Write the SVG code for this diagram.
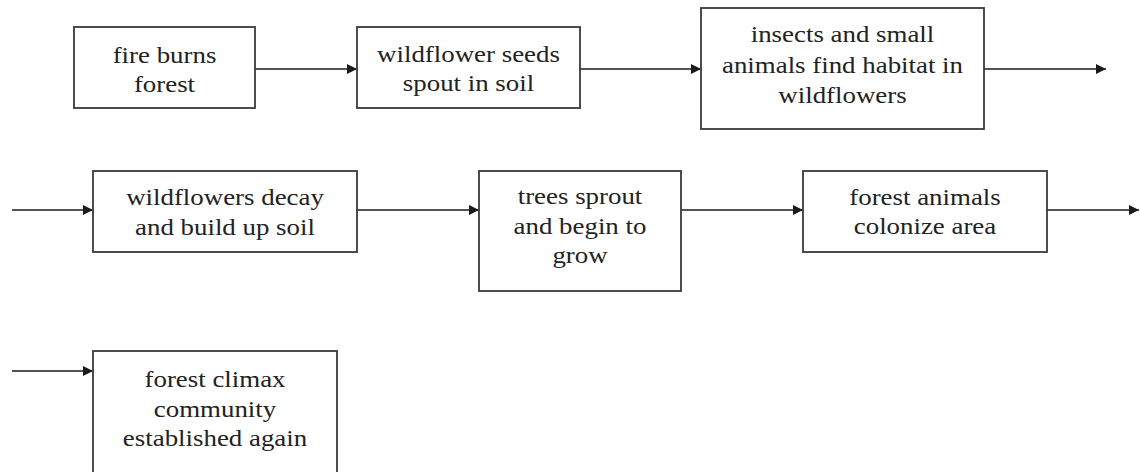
<svg xmlns="http://www.w3.org/2000/svg" width="1140" height="472" viewBox="0 0 1140 472">
  <defs>
    <marker id="arrow" viewBox="0 0 10 10" refX="10" refY="5" markerWidth="11" markerHeight="10" markerUnits="userSpaceOnUse" orient="auto">
      <path d="M0,0 L10,5 L0,10 Z" fill="#1a1a1a"/>
    </marker>
  </defs>
  <style>
    .box { fill: #ffffff; stroke: #3a3a3a; stroke-width: 1.8; }
    .label { font-family: "Liberation Serif", "Times New Roman", serif; font-size: 24px; fill: #222222; text-anchor: middle; }
    .edge { stroke: #1a1a1a; stroke-width: 1.6; fill: none; marker-end: url(#arrow); }
  </style>
  <rect width="1140" height="472" fill="#ffffff"/>

  <g id="connectors">
    <line class="edge" x1="255" y1="69" x2="357" y2="69"/>
    <line class="edge" x1="580" y1="69" x2="701" y2="69"/>
    <line class="edge" x1="984" y1="69" x2="1106" y2="69"/>
    <line class="edge" x1="12" y1="210" x2="93" y2="210"/>
    <line class="edge" x1="357" y1="210" x2="479" y2="210"/>
    <line class="edge" x1="681" y1="210" x2="803" y2="210"/>
    <line class="edge" x1="1047" y1="210" x2="1139" y2="210"/>
    <line class="edge" x1="12" y1="371" x2="93" y2="371"/>
  </g>

  <!-- labels are widened slightly with a horizontal scale -->
  <g id="fire-burns-forest">
    <rect class="box" x="74" y="27" width="181" height="81"/>
    <text class="label" transform="matrix(1.12 0 0 1 164.5 63)">fire burns</text>
    <text class="label" transform="matrix(1.12 0 0 1 164.5 92)">forest</text>
  </g>

  <g id="wildflower-seeds">
    <rect class="box" x="357" y="27" width="223" height="81"/>
    <text class="label" transform="matrix(1.12 0 0 1 468.5 62)">wildflower seeds</text>
    <text class="label" transform="matrix(1.12 0 0 1 468.5 91)">spout in soil</text>
  </g>

  <g id="insects-habitat">
    <rect class="box" x="701" y="8" width="283" height="121"/>
    <text class="label" transform="matrix(1.12 0 0 1 842.5 42)">insects and small</text>
    <text class="label" transform="matrix(1.12 0 0 1 842.5 73)">animals find habitat in</text>
    <text class="label" transform="matrix(1.12 0 0 1 842.5 103)">wildflowers</text>
  </g>

  <g id="wildflowers-decay">
    <rect class="box" x="93" y="171" width="264" height="81"/>
    <text class="label" transform="matrix(1.12 0 0 1 225 205)">wildflowers decay</text>
    <text class="label" transform="matrix(1.12 0 0 1 225 235)">and build up soil</text>
  </g>

  <g id="trees-sprout">
    <rect class="box" x="479" y="171" width="202" height="120"/>
    <text class="label" transform="matrix(1.12 0 0 1 580 204)">trees sprout</text>
    <text class="label" transform="matrix(1.12 0 0 1 580 234)">and begin to</text>
    <text class="label" transform="matrix(1.12 0 0 1 580 263)">grow</text>
  </g>

  <g id="forest-animals">
    <rect class="box" x="803" y="171" width="244" height="81"/>
    <text class="label" transform="matrix(1.12 0 0 1 925 205)">forest animals</text>
    <text class="label" transform="matrix(1.12 0 0 1 925 234)">colonize area</text>
  </g>

  <g id="forest-climax">
    <rect class="box" x="93" y="351" width="244" height="130"/>
    <text class="label" transform="matrix(1.12 0 0 1 215 387)">forest climax</text>
    <text class="label" transform="matrix(1.12 0 0 1 215 417)">community</text>
    <text class="label" transform="matrix(1.12 0 0 1 215 446)">established again</text>
  </g>
</svg>
